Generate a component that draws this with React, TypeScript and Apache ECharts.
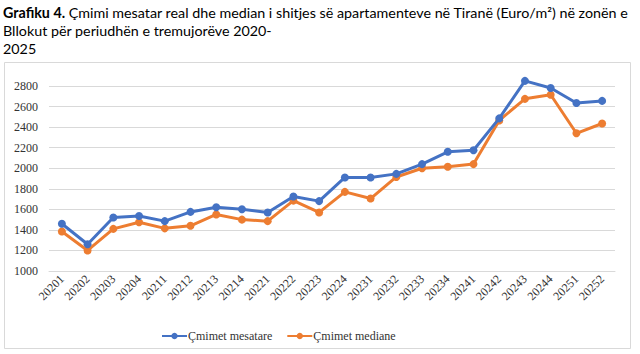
import React, { useEffect, useRef } from "react";
import * as echarts from "echarts";

const categories = ["20201","20202","20203","20204","20211","20212","20213","20214","20221","20222","20223","20224","20231","20232","20233","20234","20241","20242","20243","20244","20251","20252"];
const meanPrices = [1460,1260,1520,1535,1485,1575,1620,1600,1570,1725,1680,1910,1910,1945,2040,2160,2175,2485,2850,2780,2635,2655];
const medianPrices = [1385,1200,1410,1475,1415,1440,1550,1500,1485,1685,1570,1770,1705,1915,2000,2015,2040,2465,2675,2715,2340,2435];
const yTicks = { min: 1000, max: 2800, interval: 200 };
const seriesNames = ["Çmimet mesatare", "Çmimet mediane"];

export default function App() {
  const ref = useRef<HTMLDivElement>(null);
  useEffect(() => {
    if (!ref.current) return;
    const chart = echarts.init(ref.current, null, { renderer: "svg" });
    const serif = "Liberation Serif";
    chart.setOption({
      animation: false,
      backgroundColor: "#ffffff",
      textStyle: { fontFamily: serif },
      title: {
        left: 3,
        top: 3,
        padding: 0,
        text: "{b|Grafiku 4.} Çmimi mesatar real dhe median i shitjes së apartamenteve në Tiranë (Euro/m²) në zonën e\nBllokut për periudhën e tremujorëve 2020-\n2025",
        textStyle: {
          fontFamily: "Lato",
          fontSize: 14.3,
          fontWeight: "normal",
          color: "#000000",
          lineHeight: 18,
          rich: {
            b: { fontFamily: "Lato", fontSize: 14.3, fontWeight: "bold", color: "#000000", lineHeight: 18 },
          },
        },
      },
      graphic: [
        {
          type: "rect",
          shape: { x: 4.5, y: 62.5, width: 626, height: 286 },
          style: { fill: "none", stroke: "#d9d9d9", lineWidth: 1 },
          silent: true,
          z: -1,
        },
      ],
      legend: {
        left: 156,
        top: 325,
        itemWidth: 25,
        itemHeight: 8,
        itemGap: 14,
        textStyle: { fontFamily: serif, fontSize: 12, color: "#333333", padding: [0, 0, 0, -4] },
        data: seriesNames,
      },
      grid: { left: 49, right: 25, top: 86, bottom: 83 },
      xAxis: {
        type: "category",
        data: categories,
        boundaryGap: true,
        axisLine: { show: true, lineStyle: { color: "#d9d9d9" } },
        axisTick: { show: false },
        axisLabel: { rotate: 45, fontFamily: serif, fontSize: 12, color: "#333333", margin: 6, interval: 0 },
      },
      yAxis: {
        type: "value",
        min: yTicks.min,
        max: yTicks.max,
        interval: yTicks.interval,
        axisLine: { show: false },
        axisTick: { show: false },
        splitLine: { lineStyle: { color: "#d9d9d9", width: 1 } },
        axisLabel: { fontFamily: serif, fontSize: 12, color: "#333333", margin: 11, formatter: (v: number) => String(v) },
      },
      series: [
        {
          name: seriesNames[0],
          type: "line",
          data: meanPrices,
          clip: false,
          symbol: "circle",
          symbolSize: 8,
          lineStyle: { color: "#4472C4", width: 3 },
          itemStyle: { color: "#4472C4" },
          z: 3,
        },
        {
          name: seriesNames[1],
          type: "line",
          data: medianPrices,
          clip: false,
          symbol: "circle",
          symbolSize: 8,
          lineStyle: { color: "#ED7D31", width: 3 },
          itemStyle: { color: "#ED7D31" },
          z: 2,
        },
      ],
    });
    return () => chart.dispose();
  }, []);
  return <div ref={ref} style={{ position: "fixed", left: 0, top: 0, width: 640, height: 354 }} />;
}
